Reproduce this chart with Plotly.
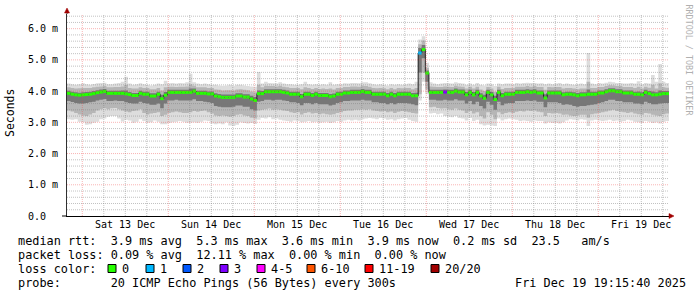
import plotly.graph_objects as go
from datetime import datetime, timedelta

# ---------------- data (ms, hourly consolidated, 168 bins) ----------------
range_start = datetime(2025, 12, 12, 19, 44)
range_end = range_start + timedelta(days=7)

median_rtt = [
    3.93, 3.90, 3.88, 3.87, 3.88, 3.89, 3.90, 3.92, 3.95, 3.97, 3.99, 3.93,
    3.93, 3.93, 3.93, 3.93, 3.91, 3.89, 3.86, 3.86, 3.93, 3.90, 3.90, 3.84,
    3.84, 3.90, 3.76, 3.87, 3.96, 3.96, 3.96, 3.96, 3.96, 3.96, 3.96, 4.00,
    3.93, 3.93, 3.93, 3.91, 3.91, 3.84, 3.82, 3.80, 3.80, 3.80, 3.80, 3.84,
    3.84, 3.81, 3.81, 3.75, 3.70, 3.92, 3.92, 3.98, 3.98, 3.98, 3.98, 3.98,
    3.96, 3.94, 3.90, 3.90, 3.90, 3.82, 3.90, 3.90, 3.86, 3.90, 3.86, 3.86,
    3.86, 3.82, 3.84, 3.90, 3.90, 3.94, 3.94, 3.96, 3.96, 3.96, 3.99, 3.96,
    3.96, 3.90, 3.90, 3.90, 3.90, 3.85, 3.90, 3.85, 3.90, 3.90, 3.90, 3.90,
    3.85, 3.85, 5.22, 5.33, 4.58, 3.96, 3.96, 3.96, 3.96, 3.97, 3.96, 3.96,
    4.00, 3.97, 3.97, 3.88, 3.96, 3.88, 3.96, 3.84, 3.77, 3.96, 3.88, 3.73,
    3.96, 3.85, 3.90, 3.90, 3.90, 3.96, 3.96, 3.96, 3.98, 3.96, 3.98, 3.94,
    3.94, 3.78, 3.94, 3.94, 3.94, 3.94, 3.88, 3.90, 3.90, 3.88, 3.85, 3.88,
    3.88, 3.90, 3.90, 3.90, 3.94, 3.94, 3.98, 4.01, 4.01, 3.98, 3.98, 3.94,
    3.94, 3.94, 3.90, 3.90, 3.88, 3.96, 3.92, 3.88, 3.88, 3.90, 3.92, 3.92,
]

smoke_max = [
    4.24, 4.22, 4.20, 4.22, 4.25, 4.22, 4.20, 4.23, 4.25, 4.26, 4.27, 4.22,
    4.22, 4.24, 4.26, 4.30, 4.46, 4.24, 4.20, 4.22, 4.25, 4.22, 4.20, 4.18,
    4.20, 4.24, 4.22, 4.33, 4.25, 4.26, 4.24, 4.26, 4.25, 4.28, 4.56, 4.28,
    4.24, 4.22, 4.24, 4.22, 4.20, 4.20, 4.18, 4.17, 4.18, 4.20, 4.17, 4.20,
    4.20, 4.18, 4.16, 4.15, 4.14, 4.61, 4.24, 4.30, 4.26, 4.25, 4.24, 4.28,
    4.24, 4.22, 4.22, 4.20, 4.20, 4.22, 4.30, 4.22, 4.20, 4.22, 4.20, 4.22,
    4.20, 4.28, 4.20, 4.22, 4.22, 4.25, 4.24, 4.26, 4.26, 4.25, 4.28, 4.28,
    4.25, 4.22, 4.20, 4.22, 4.20, 4.18, 4.22, 4.20, 4.22, 4.20, 4.22, 4.24,
    4.22, 4.30, 5.65, 5.76, 4.91, 4.28, 4.24, 4.22, 4.24, 4.26, 4.25, 4.24,
    4.28, 4.26, 4.24, 4.20, 4.24, 4.20, 4.26, 4.20, 4.18, 4.24, 4.22, 4.16,
    4.24, 4.22, 4.24, 4.24, 4.22, 4.26, 4.24, 4.26, 4.27, 4.26, 4.26, 4.24,
    4.25, 4.22, 4.24, 4.22, 4.24, 4.26, 4.22, 4.24, 4.22, 4.20, 4.22, 4.24,
    4.22, 5.22, 4.24, 4.22, 4.26, 4.24, 4.27, 4.30, 4.28, 4.26, 4.26, 4.24,
    4.24, 4.26, 4.24, 4.32, 4.22, 4.26, 4.24, 4.52, 4.30, 4.87, 4.30, 4.26,
]

smoke_p90 = [
    4.12, 4.10, 4.08, 4.09, 4.10, 4.10, 4.10, 4.12, 4.14, 4.15, 4.16, 4.12,
    4.12, 4.13, 4.13, 4.15, 4.20, 4.10, 4.08, 4.08, 4.12, 4.10, 4.10, 4.06,
    4.06, 4.10, 4.02, 4.12, 4.14, 4.14, 4.13, 4.14, 4.14, 4.15, 4.22, 4.17,
    4.12, 4.12, 4.12, 4.10, 4.10, 4.05, 4.04, 4.02, 4.03, 4.03, 4.02, 4.05,
    4.06, 4.04, 4.03, 3.99, 3.96, 4.20, 4.12, 4.17, 4.16, 4.16, 4.15, 4.17,
    4.14, 4.12, 4.10, 4.10, 4.10, 4.06, 4.12, 4.10, 4.07, 4.10, 4.07, 4.08,
    4.07, 4.08, 4.05, 4.10, 4.10, 4.13, 4.13, 4.15, 4.15, 4.14, 4.17, 4.16,
    4.14, 4.10, 4.09, 4.10, 4.09, 4.06, 4.10, 4.06, 4.10, 4.09, 4.10, 4.10,
    4.06, 4.10, 5.50, 5.62, 4.75, 4.15, 4.14, 4.13, 4.13, 4.15, 4.14, 4.13,
    4.17, 4.15, 4.14, 4.08, 4.14, 4.08, 4.14, 4.05, 4.00, 4.13, 4.08, 3.98,
    4.14, 4.07, 4.10, 4.10, 4.10, 4.14, 4.14, 4.14, 4.16, 4.14, 4.16, 4.13,
    4.13, 4.04, 4.13, 4.12, 4.13, 4.13, 4.08, 4.10, 4.10, 4.08, 4.06, 4.08,
    4.08, 4.30, 4.10, 4.10, 4.13, 4.13, 4.16, 4.19, 4.18, 4.16, 4.16, 4.13,
    4.13, 4.13, 4.10, 4.14, 4.08, 4.14, 4.11, 4.20, 4.08, 4.25, 4.12, 4.11,
]

smoke_p75 = [
    4.01, 3.98, 3.96, 3.95, 3.96, 3.97, 3.98, 4.00, 4.03, 4.05, 4.07, 4.01,
    4.01, 4.01, 4.01, 4.02, 4.02, 3.97, 3.94, 3.94, 4.01, 3.98, 3.98, 3.93,
    3.93, 3.98, 3.88, 3.97, 4.04, 4.04, 4.04, 4.04, 4.04, 4.04, 4.08, 4.08,
    4.01, 4.01, 4.01, 3.99, 3.99, 3.93, 3.91, 3.89, 3.89, 3.89, 3.89, 3.93,
    3.93, 3.90, 3.90, 3.85, 3.81, 4.02, 4.00, 4.06, 4.06, 4.06, 4.06, 4.06,
    4.04, 4.02, 3.98, 3.98, 3.98, 3.91, 3.98, 3.98, 3.94, 3.98, 3.94, 3.94,
    3.94, 3.91, 3.92, 3.98, 3.98, 4.02, 4.02, 4.04, 4.04, 4.04, 4.07, 4.04,
    4.04, 3.98, 3.98, 3.98, 3.98, 3.94, 3.98, 3.94, 3.98, 3.98, 3.98, 3.98,
    3.94, 3.95, 5.38, 5.48, 4.66, 4.04, 4.04, 4.04, 4.04, 4.05, 4.04, 4.04,
    4.08, 4.05, 4.05, 3.97, 4.04, 3.97, 4.04, 3.93, 3.88, 4.04, 3.97, 3.85,
    4.04, 3.94, 3.98, 3.98, 3.98, 4.04, 4.04, 4.04, 4.06, 4.04, 4.06, 4.02,
    4.02, 3.90, 4.02, 4.02, 4.02, 4.02, 3.96, 3.98, 3.98, 3.96, 3.94, 3.96,
    3.96, 4.05, 3.98, 3.98, 4.02, 4.02, 4.06, 4.09, 4.09, 4.06, 4.06, 4.02,
    4.02, 4.02, 3.98, 3.99, 3.96, 4.04, 4.00, 3.99, 3.96, 4.02, 4.00, 4.00,
]

smoke_p25 = [
    3.68, 3.65, 3.62, 3.60, 3.60, 3.62, 3.64, 3.66, 3.70, 3.72, 3.75, 3.68,
    3.68, 3.70, 3.68, 3.68, 3.64, 3.62, 3.60, 3.60, 3.66, 3.62, 3.60, 3.56,
    3.56, 3.60, 3.45, 3.60, 3.70, 3.70, 3.72, 3.70, 3.70, 3.70, 3.70, 3.74,
    3.68, 3.68, 3.66, 3.64, 3.62, 3.52, 3.50, 3.48, 3.48, 3.48, 3.50, 3.54,
    3.54, 3.50, 3.50, 3.42, 3.38, 3.66, 3.68, 3.72, 3.72, 3.70, 3.72, 3.72,
    3.70, 3.68, 3.64, 3.64, 3.62, 3.55, 3.62, 3.62, 3.58, 3.62, 3.58, 3.58,
    3.58, 3.54, 3.56, 3.62, 3.64, 3.68, 3.68, 3.70, 3.70, 3.70, 3.72, 3.70,
    3.70, 3.64, 3.64, 3.62, 3.62, 3.58, 3.62, 3.58, 3.62, 3.62, 3.62, 3.60,
    3.58, 3.55, 4.60, 5.05, 4.30, 3.72, 3.72, 3.70, 3.70, 3.72, 3.70, 3.70,
    3.74, 3.70, 3.70, 3.60, 3.68, 3.58, 3.66, 3.52, 3.44, 3.66, 3.56, 3.40,
    3.66, 3.55, 3.60, 3.62, 3.62, 3.68, 3.68, 3.68, 3.70, 3.68, 3.70, 3.66,
    3.66, 3.48, 3.64, 3.64, 3.64, 3.62, 3.56, 3.58, 3.56, 3.52, 3.50, 3.52,
    3.52, 3.55, 3.56, 3.58, 3.62, 3.64, 3.68, 3.72, 3.72, 3.68, 3.68, 3.64,
    3.64, 3.64, 3.60, 3.60, 3.58, 3.66, 3.62, 3.58, 3.58, 3.60, 3.62, 3.62,
]

smoke_p10 = [
    3.38, 3.35, 3.30, 3.25, 3.22, 3.20, 3.25, 3.30, 3.38, 3.42, 3.45, 3.42,
    3.45, 3.46, 3.42, 3.38, 3.35, 3.32, 3.36, 3.38, 3.42, 3.30, 3.25, 3.28,
    3.30, 3.32, 3.20, 3.24, 3.30, 3.32, 3.35, 3.32, 3.30, 3.30, 3.32, 3.36,
    3.34, 3.36, 3.38, 3.32, 3.28, 3.22, 3.20, 3.22, 3.20, 3.18, 3.20, 3.24,
    3.26, 3.22, 3.20, 3.15, 3.12, 3.38, 3.40, 3.42, 3.44, 3.40, 3.42, 3.40,
    3.38, 3.36, 3.32, 3.30, 3.32, 3.25, 3.30, 3.32, 3.28, 3.30, 3.26, 3.28,
    3.26, 3.24, 3.26, 3.30, 3.32, 3.36, 3.38, 3.38, 3.40, 3.40, 3.42, 3.40,
    3.42, 3.38, 3.36, 3.35, 3.36, 3.32, 3.35, 3.30, 3.34, 3.36, 3.35, 3.32,
    3.30, 3.28, 3.90, 4.60, 4.05, 3.48, 3.50, 3.46, 3.44, 3.45, 3.42, 3.40,
    3.44, 3.40, 3.38, 3.30, 3.36, 3.28, 3.32, 3.20, 3.12, 3.32, 3.24, 3.10,
    3.32, 3.26, 3.30, 3.32, 3.30, 3.34, 3.36, 3.35, 3.38, 3.36, 3.38, 3.34,
    3.32, 3.20, 3.30, 3.28, 3.30, 3.28, 3.24, 3.25, 3.22, 3.20, 3.22, 3.24,
    3.24, 3.15, 3.26, 3.28, 3.30, 3.32, 3.35, 3.38, 3.40, 3.36, 3.34, 3.32,
    3.30, 3.32, 3.28, 3.26, 3.24, 3.30, 3.28, 3.24, 3.22, 3.20, 3.26, 3.28,
]

smoke_min = [
    3.10, 3.08, 3.10, 3.02, 3.00, 2.92, 2.94, 2.99, 3.02, 3.10, 3.12, 3.18,
    3.20, 3.20, 3.12, 3.03, 3.08, 3.06, 2.99, 3.02, 3.10, 3.04, 2.99, 3.00,
    3.06, 3.02, 2.94, 2.94, 2.98, 3.00, 3.02, 3.04, 3.02, 2.99, 2.99, 3.00,
    2.99, 3.02, 3.06, 3.04, 2.96, 2.94, 2.96, 2.94, 3.00, 2.90, 2.88, 2.92,
    3.00, 2.98, 2.96, 2.98, 2.95, 3.08, 3.14, 3.12, 3.16, 3.10, 3.12, 3.08,
    3.06, 3.04, 3.02, 3.06, 3.04, 3.00, 3.02, 3.04, 3.00, 3.02, 2.99, 3.00,
    3.02, 2.98, 3.00, 3.04, 3.02, 3.06, 3.08, 3.06, 3.08, 3.06, 3.10, 3.12,
    3.14, 3.12, 3.10, 3.14, 3.12, 3.08, 3.10, 3.06, 3.10, 3.12, 3.14, 3.08,
    3.04, 3.02, 3.70, 4.30, 3.90, 3.28, 3.30, 3.26, 3.28, 3.20, 3.18, 3.16,
    3.20, 3.14, 3.12, 3.06, 3.14, 3.04, 3.08, 2.94, 2.90, 2.92, 2.90, 2.88,
    3.12, 3.06, 3.10, 3.12, 3.10, 3.08, 3.04, 3.06, 3.04, 3.02, 3.06, 3.04,
    3.04, 2.96, 3.00, 2.98, 2.99, 2.96, 3.00, 3.06, 3.10, 3.08, 3.06, 3.10,
    3.08, 2.88, 3.06, 3.08, 3.06, 3.04, 3.06, 3.08, 3.04, 3.06, 3.02, 3.04,
    3.08, 3.06, 3.02, 3.00, 2.98, 3.04, 3.02, 2.98, 3.00, 2.96, 3.02, 3.04,
]

# packet loss events: (hour bin index, loss percent); all other bins 0 %
loss_events = [(98, 5.0), (105, 12.11)]

# loss colour legend (upper bound of lost pings out of 20, label, colour)
loss_keys = [0, 1, 2, 3, 5, 10, 19, 20]
loss_labels = ["0", "1", "2", "3", "4-5", "6-10", "11-19", "20/20"]
loss_colors = ["#26ff00", "#00b8ff", "#0059ff", "#7e00ff",
               "#ff00ff", "#ff5500", "#ff0000", "#a10000"]

y_tick_vals = [0, 1, 2, 3, 4, 5, 6]
y_tick_text = ["0.0  ", "1.0 m", "2.0 m", "3.0 m", "4.0 m", "5.0 m", "6.0 m"]
day_labels = ["Sat 13 Dec", "Sun 14 Dec", "Mon 15 Dec", "Tue 16 Dec",
              "Wed 17 Dec", "Thu 18 Dec", "Fri 19 Dec"]
first_midnight = datetime(2025, 12, 13)

legend_lines = [
    "median rtt:  3.9 ms avg  5.3 ms max  3.6 ms min  3.9 ms now  0.2 ms sd  23.5   am/s",
    "packet loss: 0.09 % avg  12.11 % max  0.00 % min  0.00 % now",
]
probe_text = "probe:       20 ICMP Echo Pings (56 Bytes) every 300s"
stamp_text = "Fri Dec 19 19:15:40 2025"

# ---------------- layout geometry ----------------
W, H = 697, 297
L, R, T, B = 67, 28, 14, 81
PW, PH = W - L - R, H - T - B
Y_MAX = 6.47
FONT = "DejaVu Sans Mono"
RED_GRID = "rgba(240,70,70,0.40)"
GRAY_GRID = "rgba(120,120,120,0.45)"
DOTS = "1px,1px"


def px(x):
    return (x - L) / PW


def py(y):
    return (H - B - y) / PH


def nb(s):
    return s.replace(" ", "\u00a0")


n = len(median_rtt)
times = [range_start + timedelta(hours=i) for i in range(n + 1)]


def ext(a):
    return list(a) + [a[-1]]


fig = go.Figure()


def band(lo, hi, color):
    fig.add_trace(go.Scatter(x=times, y=ext(lo), mode="lines",
                             line=dict(width=0, shape="hv"),
                             hoverinfo="skip", showlegend=False))
    fig.add_trace(go.Scatter(x=times, y=ext(hi), mode="lines",
                             line=dict(width=0, shape="hv"),
                             fill="tonexty", fillcolor=color,
                             hoverinfo="skip", showlegend=False))


band(smoke_min, smoke_max, "#dddddd")
band(smoke_p10, smoke_p90, "#b6b6b6")
band(smoke_p25, smoke_p75, "#777777")

# thin dark median line (shows the vertical steps)
fig.add_trace(go.Scatter(x=times, y=ext(median_rtt), mode="lines",
                         line=dict(width=1, shape="hv", color="#202020"),
                         hoverinfo="skip", showlegend=False))

# loss-coloured median segments
loss_pct = [0.0] * n
for idx, pct in loss_events:
    loss_pct[idx] = pct


def loss_class(p):
    cnt = p / 100.0 * 20
    for k, key in enumerate(loss_keys):
        if cnt <= key + 1e-9:
            return k
    return len(loss_keys) - 1


for k, col in enumerate(loss_colors):
    xs, ys = [], []
    for i in range(n):
        if loss_class(loss_pct[i]) == k:
            xs += [times[i], times[i + 1], None]
            ys += [median_rtt[i], median_rtt[i], None]
    if xs:
        fig.add_trace(go.Scatter(x=xs, y=ys, mode="lines",
                                 line=dict(width=3, color=col),
                                 hoverinfo="skip", showlegend=False))

fig.update_layout(
    width=W, height=H,
    margin=dict(l=L, r=R, t=T, b=B, pad=0),
    paper_bgcolor="white", plot_bgcolor="white",
    font=dict(family=FONT, size=10, color="black"),
    showlegend=False,
    xaxis=dict(
        type="date", range=[range_start, range_end],
        showticklabels=False, ticks="", showgrid=False, zeroline=False,
        showline=True, linecolor="#000000", linewidth=1,
    ),
    yaxis=dict(
        range=[0, Y_MAX], tickmode="array", tickvals=y_tick_vals,
        ticktext=[nb(s) for s in y_tick_text], ticks="",
        ticklabelstandoff=6,
        tickfont=dict(family=FONT, size=10, color="black"),
        showgrid=False, zeroline=False,
        showline=True, linecolor="#303030", linewidth=1,
    ),
)

annotations = []
shapes = []

# grid drawn over the graph (as rrdtool does): 6-hour and 0.2 ms minor lines,
# day and 1 ms major lines
t = first_midnight - timedelta(hours=6)
while t < range_end:
    if t > range_start:
        major = (t.hour == 0)
        shapes.append(dict(type="line", xref="x", yref="paper",
                           x0=t, x1=t, y0=0, y1=1, layer="above",
                           line=dict(color=RED_GRID if major else GRAY_GRID,
                                     width=1, dash=DOTS)))
    t += timedelta(hours=6)
k = 1
while k * 0.2 < Y_MAX:
    v = round(k * 0.2, 1)
    major = (k % 5 == 0)
    shapes.append(dict(type="line", xref="paper", yref="y",
                       x0=0, x1=1, y0=v, y1=v, layer="above",
                       line=dict(color=RED_GRID if major else GRAY_GRID,
                                 width=1, dash=DOTS)))
    k += 1

for d, lab in enumerate(day_labels):
    annotations.append(dict(
        x=first_midnight + timedelta(days=d, hours=12), y=py(224.5),
        xref="x", yref="paper", text=nb(lab), showarrow=False,
        xanchor="center", yanchor="middle",
        font=dict(family=FONT, size=10, color="black")))

LEG = 11.85
row_y = [241, 255, 268.5, 282.5]
for r, line in enumerate(legend_lines):
    annotations.append(dict(x=px(16), y=py(row_y[r]), xref="paper", yref="paper",
                            text=nb(line), showarrow=False, xanchor="left",
                            yanchor="middle", font=dict(family=FONT, size=LEG)))
annotations.append(dict(x=px(16), y=py(row_y[2]), xref="paper", yref="paper",
                        text=nb("loss color:"), showarrow=False, xanchor="left",
                        yanchor="middle", font=dict(family=FONT, size=LEG)))
annotations.append(dict(x=px(16), y=py(row_y[3]), xref="paper", yref="paper",
                        text=nb(probe_text), showarrow=False, xanchor="left",
                        yanchor="middle", font=dict(family=FONT, size=LEG)))
annotations.append(dict(x=px(513), y=py(row_y[3]), xref="paper", yref="paper",
                        text=nb(stamp_text), showarrow=False, xanchor="left",
                        yanchor="middle", font=dict(family=FONT, size=LEG)))

box_x = [108, 146, 183, 220, 257, 307, 365, 431]
for bx, lab, col in zip(box_x, loss_labels, loss_colors):
    shapes.append(dict(type="rect", xref="paper", yref="paper",
                       x0=px(bx), x1=px(bx + 8), y0=py(264.5), y1=py(272.5),
                       fillcolor=col, line=dict(color="black", width=1)))
    annotations.append(dict(x=px(bx + 12), y=py(row_y[2]), xref="paper",
                            yref="paper", text=nb(lab), showarrow=False,
                            xanchor="left", yanchor="middle",
                            font=dict(family=FONT, size=LEG)))

# axis title and watermark
annotations.append(dict(x=px(10), y=py(113), xref="paper", yref="paper",
                        text="Seconds", textangle=-90, showarrow=False,
                        xanchor="center", yanchor="middle",
                        font=dict(family=FONT, size=11.5, color="black")))
annotations.append(dict(x=px(688.5), y=py(60), xref="paper", yref="paper",
                        text=nb("RRDTOOL / TOBI OETIKER"), textangle=90,
                        showarrow=False, xanchor="center", yanchor="middle",
                        font=dict(family=FONT, size=8.4, color="#b0b0b0")))

# axis extensions and arrows
shapes.append(dict(type="line", xref="paper", yref="paper",
                   x0=px(67), x1=px(67), y0=1, y1=py(12),
                   line=dict(color="#303030", width=1)))
shapes.append(dict(type="line", xref="paper", yref="paper",
                   x0=px(62), x1=px(67), y0=0, y1=0,
                   line=dict(color="#000000", width=1)))
shapes.append(dict(type="line", xref="paper", yref="paper",
                   x0=1, x1=px(670), y0=0, y1=0,
                   line=dict(color="#000000", width=1)))
shapes.append(dict(type="path", xref="paper", yref="paper",
                   path=f"M {px(64.5)} {py(13)} L {px(69.5)} {py(13)} L {px(67)} {py(8)} Z",
                   fillcolor="#a00000", line=dict(color="#a00000", width=0.5)))
shapes.append(dict(type="path", xref="paper", yref="paper",
                   path=f"M {px(669)} {py(213.5)} L {px(669)} {py(218.5)} L {px(674)} {py(216)} Z",
                   fillcolor="#a00000", line=dict(color="#a00000", width=0.5)))

fig.update_layout(annotations=annotations, shapes=shapes)
fig.write_html("out.html")
